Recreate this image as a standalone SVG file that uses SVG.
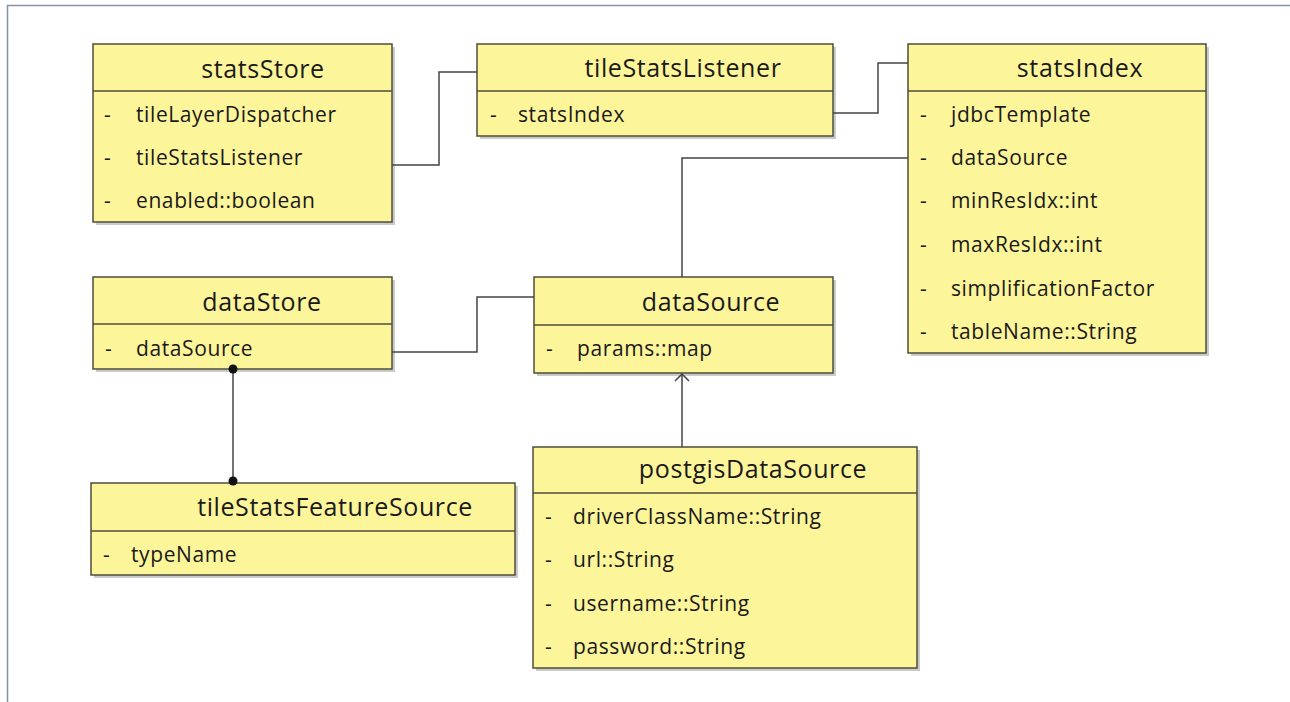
<svg xmlns="http://www.w3.org/2000/svg" width="1290" height="702" viewBox="0 0 1290 702">
<defs>
<style>
.box{fill:#fdf59a;stroke:#4d4d3c;stroke-width:1.5}
.sh{fill:#8a8a80;opacity:0.45}
.div{stroke:#4d4d3c;stroke-width:1.5}
.title{font-family:"Open Sans","Liberation Sans",sans-serif;font-size:25px;fill:#1a1a1a;text-anchor:middle;letter-spacing:0.6px}
.attr{font-family:"Open Sans","Liberation Sans",sans-serif;font-size:21px;fill:#1a1a1a;letter-spacing:0.6px}
.dash{font-family:"Open Sans","Liberation Sans",sans-serif;font-size:21px;fill:#1a1a1a}
.conn{fill:none;stroke:#444;stroke-width:1.5}
</style>
</defs>
<rect width="1290" height="702" fill="#fff"/>
<path d="M7.5,702 V5.5 H1290" fill="none" stroke="#8494a6" stroke-width="1.5"/>

<g id="statsStore">
<rect class="sh" x="96" y="47" width="299" height="178"/>
<rect class="box" x="93" y="44" width="299" height="178"/>
<line class="div" x1="93" y1="91" x2="392" y2="91"/>
<text class="title" x="263" y="78">statsStore</text>
<text class="dash" x="104" y="122">-</text><text class="attr" x="136" y="122">tileLayerDispatcher</text>
<text class="dash" x="104" y="165">-</text><text class="attr" x="136" y="165">tileStatsListener</text>
<text class="dash" x="104" y="208">-</text><text class="attr" x="136" y="208">enabled::boolean</text>
</g>

<g id="tileStatsListener">
<rect class="sh" x="480" y="47" width="356" height="92"/>
<rect class="box" x="477" y="44" width="356" height="92"/>
<line class="div" x1="477" y1="91" x2="833" y2="91"/>
<text class="title" x="683" y="77">tileStatsListener</text>
<text class="dash" x="490" y="122">-</text><text class="attr" x="518" y="122">statsIndex</text>
</g>

<g id="statsIndex">
<rect class="sh" x="911" y="47" width="298" height="309"/>
<rect class="box" x="908" y="44" width="298" height="309"/>
<line class="div" x1="908" y1="91" x2="1206" y2="91"/>
<text class="title" x="1080" y="77">statsIndex</text>
<text class="dash" x="920" y="122">-</text><text class="attr" x="951" y="122">jdbcTemplate</text>
<text class="dash" x="920" y="165">-</text><text class="attr" x="951" y="165">dataSource</text>
<text class="dash" x="920" y="208">-</text><text class="attr" x="951" y="208">minResIdx::int</text>
<text class="dash" x="920" y="252">-</text><text class="attr" x="951" y="252">maxResIdx::int</text>
<text class="dash" x="920" y="296">-</text><text class="attr" x="951" y="296">simplificationFactor</text>
<text class="dash" x="920" y="339">-</text><text class="attr" x="951" y="339">tableName::String</text>
</g>

<g id="dataStore">
<rect class="sh" x="96" y="280" width="299" height="92"/>
<rect class="box" x="93" y="277" width="299" height="92"/>
<line class="div" x1="93" y1="324" x2="392" y2="324"/>
<text class="title" x="262" y="311">dataStore</text>
<text class="dash" x="105" y="356">-</text><text class="attr" x="136" y="356">dataSource</text>
</g>

<g id="dataSource">
<rect class="sh" x="537" y="280" width="299" height="96"/>
<rect class="box" x="534" y="277" width="299" height="96"/>
<line class="div" x1="534" y1="325" x2="833" y2="325"/>
<text class="title" x="711" y="311">dataSource</text>
<text class="dash" x="546" y="356">-</text><text class="attr" x="577" y="356">params::map</text>
</g>

<g id="tileStatsFeatureSource">
<rect class="sh" x="94" y="486" width="424" height="92"/>
<rect class="box" x="91" y="483" width="424" height="92"/>
<line class="div" x1="91" y1="531" x2="515" y2="531"/>
<text class="title" x="335" y="516">tileStatsFeatureSource</text>
<text class="dash" x="103" y="562">-</text><text class="attr" x="131" y="562">typeName</text>
</g>

<g id="postgisDataSource">
<rect class="sh" x="536" y="450" width="384" height="221"/>
<rect class="box" x="533" y="447" width="384" height="221"/>
<line class="div" x1="533" y1="493" x2="917" y2="493"/>
<text class="title" x="753" y="478">postgisDataSource</text>
<text class="dash" x="545" y="524">-</text><text class="attr" x="573" y="524">driverClassName::String</text>
<text class="dash" x="545" y="567">-</text><text class="attr" x="573" y="567">url::String</text>
<text class="dash" x="545" y="611">-</text><text class="attr" x="573" y="611">username::String</text>
<text class="dash" x="545" y="654">-</text><text class="attr" x="573" y="654">password::String</text>
</g>

<g id="connectors">
<path class="conn" d="M392,165 H439 V72 H477"/>
<path class="conn" d="M833,113 H878 V63 H908"/>
<path class="conn" d="M908,158 H682 V277"/>
<path class="conn" d="M392,352 H477 V297 H534"/>
<path class="conn" d="M682,447 V374"/>
<path d="M675,381 L682,374 L689,381" fill="none" stroke="#444" stroke-width="1.5"/>
<path class="conn" d="M233,369 V481"/>
<circle cx="233" cy="369" r="4.5" fill="#111"/>
<circle cx="233" cy="481" r="4.5" fill="#111"/>
</g>
</svg>
